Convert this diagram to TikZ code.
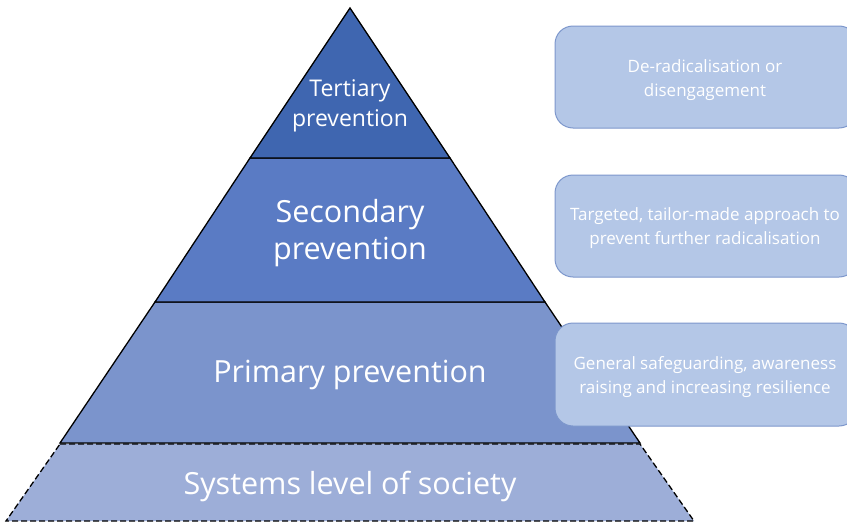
\documentclass[tikz,border=0pt]{standalone}
\usepackage{fontspec}
\setmainfont{Open Sans}
\definecolor{lay1}{HTML}{3F66B0}
\definecolor{lay2}{HTML}{5A7BC4}
\definecolor{lay3}{HTML}{7B94CC}
\definecolor{lay4}{HTML}{9DAED8}
\definecolor{boxfill}{HTML}{B4C7E7}
\definecolor{boxline}{HTML}{7D97CC}
\begin{document}
\begin{tikzpicture}[x=1pt,y=-1pt,
  layer/.style={draw=black, line width=1.3pt, line join=miter},
  bigtext/.style={text=white, font=\fontsize{30.5}{37}\selectfont, align=center},
  midtext/.style={text=white, font=\fontsize{23}{30}\selectfont, align=center},
  sidebox/.style={draw=boxline, line width=1pt, fill=boxfill, rounded corners=18pt},
  sidetext/.style={text=white, font=\fontsize{17}{24}\selectfont, align=center}]
\useasboundingbox (0,0) rectangle (847,522);
\clip (0,0) rectangle (847,522);
% bottom dashed layer
\draw[layer, fill=lay4, dashed, dash pattern=on 6pt off 3pt] (60,444) -- (640,444) -- (694,521) -- (6,521) -- cycle;
% primary
\draw[layer, fill=lay3] (155,302) -- (545,302) -- (640,443) -- (60,443) -- cycle;
% secondary
\draw[layer, fill=lay2] (250,158) -- (450,158) -- (545,302) -- (155,302) -- cycle;
% tertiary
\draw[layer, fill=lay1] (350,8) -- (450,158) -- (250,158) -- cycle;
\node[midtext] (t1) at (350,106) {Tertiary\\prevention};
\node[bigtext] (t2) at (350,233) {Secondary\\prevention};
\node[bigtext] (t3) at (350,375) {Primary prevention};
\node[bigtext] (t4) at (350,486) {Systems level of society};
% side boxes
\draw[sidebox] (555,26) rectangle (857,128);
\draw[sidebox] (555,175) rectangle (857,277);
\draw[sidebox] (555,323) rectangle (857,426);
\node[sidetext] (b1) at (705,80) {De-radicalisation or\\disengagement};
\node[sidetext] (b2) at (705,228) {Targeted, tailor-made approach to\\prevent further radicalisation};
\node[sidetext] (b3) at (705,377) {General safeguarding, awareness\\raising and increasing resilience};
\end{tikzpicture}
\end{document}
